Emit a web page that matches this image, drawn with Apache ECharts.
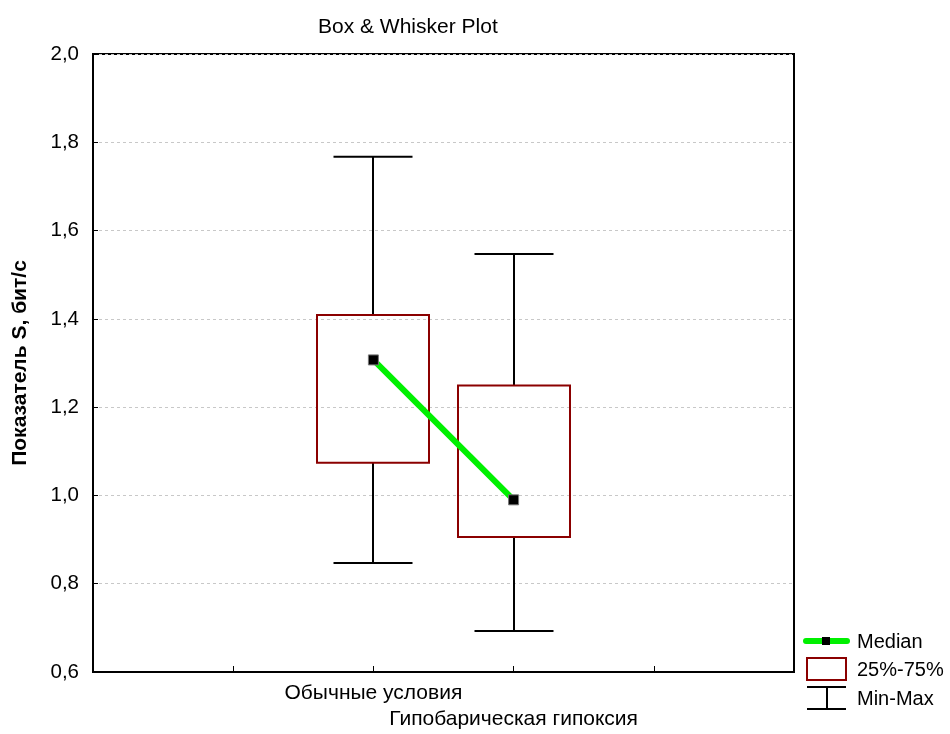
<!DOCTYPE html>
<html>
<head>
<meta charset="utf-8">
<style>
  html, body { margin: 0; padding: 0; background: #fff; }
  #chart { width: 950px; height: 734px; }
</style>
<script src="https://cdn.jsdelivr.net/npm/echarts@6/dist/echarts.min.js"></script>
</head>
<body>
<div id="chart"></div>
<script>
// Group names and their five-number summaries (S index, bit/s)
const categories = ['Обычные условия', 'Гипобарическая гипоксия'];
const minValues = [0.847, 0.693];
const q1Values = [1.074, 0.906];
const medianValues = [1.307, 0.990];
const q3Values = [1.409, 1.249];
const maxValues = [1.767, 1.547];
const yTicks = { min: 0.6, max: 2.0, step: 0.2 };

// Groups sit on the 2nd and 3rd ticks of a 0..5 axis
const firstSlot = 2;
const boxData = categories.map((c, i) => [
  i + firstSlot, minValues[i], q1Values[i], medianValues[i], q3Values[i], maxValues[i]
]);
const medianLine = categories.map((c, i) => [i + firstSlot, medianValues[i]]);

const FONT = '"Liberation Sans", Arial, sans-serif';
const GREEN = '#00f000';
const BOX_RED = '#8b0000';
const BOX_W = 112;
const CAP_W = 79;

function renderBox(params, api) {
  const x = api.value(0);
  const pMin = api.coord([x, api.value(1)]);
  const pQ1 = api.coord([x, api.value(2)]);
  const pQ3 = api.coord([x, api.value(4)]);
  const pMax = api.coord([x, api.value(5)]);
  const cx = Math.round(pMin[0]);
  const lineStyle = { stroke: '#000', lineWidth: 2 };
  return {
    type: 'group',
    children: [
      { type: 'line', shape: { x1: cx, y1: pMax[1], x2: cx, y2: pQ3[1] }, style: lineStyle },
      { type: 'line', shape: { x1: cx, y1: pQ1[1], x2: cx, y2: pMin[1] }, style: lineStyle },
      { type: 'line', shape: { x1: cx - CAP_W / 2, y1: pMax[1], x2: cx + CAP_W / 2, y2: pMax[1] }, style: lineStyle },
      { type: 'line', shape: { x1: cx - CAP_W / 2, y1: pMin[1], x2: cx + CAP_W / 2, y2: pMin[1] }, style: lineStyle },
      {
        type: 'rect',
        shape: { x: cx - BOX_W / 2, y: pQ3[1], width: BOX_W, height: pQ1[1] - pQ3[1] },
        style: { fill: 'rgba(0,0,0,0)', stroke: BOX_RED, lineWidth: 2 }
      }
    ]
  };
}

const chart = echarts.init(document.getElementById('chart'), null, { renderer: 'canvas' });

const legendX = 806;
const legendFont = '20px ' + FONT;
chart.setOption({
  animation: false,
  backgroundColor: '#fff',
  title: {
    text: 'Box & Whisker Plot',
    left: 313,
    top: 12,
    textStyle: { fontFamily: FONT, fontSize: 21, fontWeight: 'normal', color: '#000' }
  },
  grid: {
    left: 93, right: 156, top: 54, bottom: 62,
    show: true, borderColor: '#000', borderWidth: 2,
    containLabel: false, outerBoundsMode: 'none'
  },
  xAxis: {
    type: 'value',
    min: 0, max: 5, interval: 1,
    axisLine: { show: true, lineStyle: { color: '#000', width: 2 } },
    axisTick: { show: true, inside: true, length: 6, lineStyle: { color: '#000', width: 1 } },
    splitLine: { show: false },
    axisLabel: {
      show: true,
      fontFamily: FONT, fontSize: 21, color: '#000',
      margin: 8, lineHeight: 26,
      formatter: function (v) {
        const i = Math.round(v) - firstSlot;
        if (i < 0 || i >= categories.length) return '';
        return (i % 2 === 1 ? '\n' : '') + categories[i];
      }
    }
  },
  yAxis: {
    type: 'value',
    min: yTicks.min, max: yTicks.max, interval: yTicks.step,
    name: 'Показатель S, бит/с',
    nameLocation: 'middle',
    nameGap: 62,
    nameTextStyle: { fontFamily: FONT, fontSize: 21, fontWeight: 'bold', color: '#000' },
    axisLine: { show: true, lineStyle: { color: '#000', width: 2 } },
    axisTick: { show: true, inside: true, length: 5, lineStyle: { color: '#000', width: 1 } },
    splitLine: { show: true, lineStyle: { color: '#c8c8c8', type: [3, 3], width: 1 } },
    axisLabel: {
      fontFamily: FONT, fontSize: 20.5, color: '#000', margin: 14,
      formatter: v => v.toFixed(1).replace('.', ',')
    }
  },
  series: [
    {
      type: 'custom',
      renderItem: renderBox,
      data: boxData,
      encode: { x: 0, y: [1, 2, 3, 4, 5] },
      z: 2
    },
    {
      type: 'line',
      data: medianLine,
      lineStyle: { color: GREEN, width: 6 },
      symbol: 'rect',
      symbolSize: 10,
      itemStyle: { color: '#000', borderColor: '#777', borderWidth: 1 },
      z: 3
    }
  ],
  graphic: [
    // Median
    { type: 'line', shape: { x1: legendX, y1: 641, x2: legendX + 41, y2: 641 }, style: { stroke: GREEN, lineWidth: 6, lineCap: 'round' } },
    { type: 'rect', shape: { x: legendX + 16, y: 637, width: 8, height: 8 }, style: { fill: '#000' } },
    { type: 'text', x: 857, y: 642, style: { text: 'Median', font: legendFont, fill: '#000', verticalAlign: 'middle' } },
    // 25%-75%
    { type: 'rect', shape: { x: legendX + 1, y: 658, width: 39, height: 22 }, style: { fill: '#fff', stroke: BOX_RED, lineWidth: 2 } },
    { type: 'text', x: 857, y: 670, style: { text: '25%-75%', font: legendFont, fill: '#000', verticalAlign: 'middle' } },
    // Min-Max
    { type: 'line', shape: { x1: legendX + 1, y1: 687, x2: legendX + 40, y2: 687 }, style: { stroke: '#000', lineWidth: 2 } },
    { type: 'line', shape: { x1: legendX + 21, y1: 687, x2: legendX + 21, y2: 709 }, style: { stroke: '#000', lineWidth: 2 } },
    { type: 'line', shape: { x1: legendX + 1, y1: 709, x2: legendX + 40, y2: 709 }, style: { stroke: '#000', lineWidth: 2 } },
    { type: 'text', x: 857, y: 699, style: { text: 'Min-Max', font: legendFont, fill: '#000', verticalAlign: 'middle' } }
  ]
});
</script>
</body>
</html>
